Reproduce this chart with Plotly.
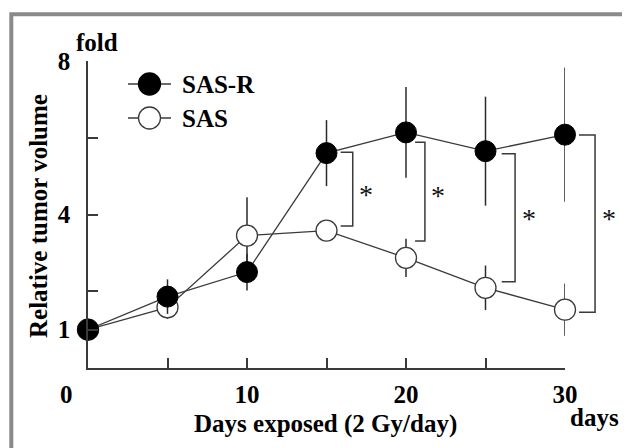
import plotly.graph_objects as go

# ---- data ----
days = [0, 5, 10, 15, 20, 25, 30]
sas_r = [1.0, 1.86, 2.50, 5.60, 6.14, 5.65, 6.08]
sas_r_err = [0.0, 0.45, 0.48, 0.86, 1.18, 1.42, 1.75]
sas = [1.0, 1.58, 3.45, 3.58, 2.87, 2.09, 1.52]
sas_err = [0.0, 0.30, 1.00, 0.0, 0.50, 0.58, 0.68]

# significance brackets (day, upper value, lower value)
br_days = [15, 20, 25, 30]
br_top = [5.62, 5.88, 5.58, 6.07]
br_bot = [3.70, 3.31, 2.25, 1.45]
br_label = ["*", "*", "*", "*"]
star_y = [4.68, 4.66, 4.05, 4.05]

y_tickvals = [1, 2, 4, 6, 8]
y_ticktext = ["1", "", "4", "", "8"]
x_tickvals = [5, 10, 15, 20, 25, 30]
x_ticktext = ["", "10", "", "20", "", "30"]

X_RANGE = [0, 30]
Y_RANGE = [0, 8]

# ---- layout geometry (pixels, in page coordinates) ----
OFF = 8  # page body margin
WIDTH, HEIGHT = 630 - OFF, 448 - OFF
L, R, T, B = 88, 565, 61, 368
PW, PH = R - L, B - T


def px(x):
    return (x - L) / PW


def py(y):
    return (B - y) / PH


def dx(d):  # data x -> paper
    return (d - X_RANGE[0]) / (X_RANGE[1] - X_RANGE[0])


def dy(v):  # data y -> paper
    return (v - Y_RANGE[0]) / (Y_RANGE[1] - Y_RANGE[0])


FONT = "Liberation Serif"
LINE_C = "#3a3a3a"
FS = 25

fig = go.Figure()

fig.add_trace(go.Scatter(
    x=days, y=sas, mode="lines+markers", name="SAS", cliponaxis=False,
    line=dict(color=LINE_C, width=1.3),
    marker=dict(size=21, color="white", line=dict(color=LINE_C, width=1.3)),
    error_y=dict(type="data", array=sas_err, visible=True, width=0,
                 thickness=1.5, color="#2a2a2a"),
    showlegend=False,
))
fig.add_trace(go.Scatter(
    x=days, y=sas_r, mode="lines+markers", name="SAS-R", cliponaxis=False,
    line=dict(color=LINE_C, width=1.3),
    marker=dict(size=21, color="black", line=dict(color="black", width=1)),
    error_y=dict(type="data", array=sas_r_err, visible=True, width=0,
                 thickness=1.5, color="#2a2a2a"),
    showlegend=False,
))

shapes = []
annotations = []

# brackets
br_dx0 = [0.89, 0.57, 1.02, 0.88]
br_dx1 = [1.65, 1.19, 1.86, 1.89]
for d, t, b, a0, a1, lab, sy in zip(br_days, br_top, br_bot, br_dx0, br_dx1, br_label, star_y):
    x0, x1 = dx(d + a0), dx(d + a1)
    y0, y1 = dy(t), dy(b)
    shapes.append(dict(
        type="path", xref="paper", yref="paper",
        path=f"M {x0},{y0} L {x1},{y0} L {x1},{y1} L {x0},{y1}",
        line=dict(color=LINE_C, width=1.5),
    ))
    annotations.append(dict(
        x=dx(d + a1 + 0.85), y=dy(sy), xref="paper", yref="paper",
        text=lab, showarrow=False, xanchor="center", yanchor="middle",
        yshift=-6,
        font=dict(family=FONT, size=28, color="#111111"),
    ))

# legend (drawn manually, to keep big markers)
leg_items = [("SAS-R", "black", "black", 84), ("SAS", "white", LINE_C, 118)]
for name, fill, edge, yy in leg_items:
    shapes.append(dict(type="line", xref="paper", yref="paper",
                       x0=px(128), x1=px(171), y0=py(yy), y1=py(yy),
                       line=dict(color=LINE_C, width=1.3)))
    shapes.append(dict(type="circle", xref="paper", yref="paper",
                       xsizemode="pixel", ysizemode="pixel",
                       xanchor=px(149.5), yanchor=py(yy),
                       x0=-11, x1=11, y0=-11, y1=11,
                       fillcolor=fill, line=dict(color=edge, width=1.3)))
    annotations.append(dict(x=px(180), y=py(yy), xref="paper", yref="paper",
                            text=f"<b>{name}</b>", showarrow=False,
                            xanchor="left", yanchor="middle",
                            font=dict(family=FONT, size=FS, color="black")))

# outer gray frame
shapes.append(dict(type="rect", xref="paper", yref="paper",
                   x0=px(11.3), x1=px(700), y0=py(14.3), y1=py(520),
                   line=dict(color="#8a8a8a", width=4), layer="below"))

# texts
annotations += [
    dict(x=px(97), y=py(43), text="<b>fold</b>"),
    dict(x=px(66), y=py(394), text="<b>0</b>"),
    dict(x=px(594), y=py(417), text="<b>days</b>"),
    dict(x=px(325), y=py(424), text="<b>Days exposed (2 Gy/day)</b>"),
    dict(x=px(38), y=py(216), text="<b>Relative tumor volume</b>", textangle=-90),
]
for a in annotations[-5:]:
    a.update(xref="paper", yref="paper", showarrow=False,
             xanchor="center", yanchor="middle",
             font=dict(family=FONT, size=FS, color="black"))

axis_common = dict(
    showline=True, linecolor=LINE_C, linewidth=1.5, mirror=False,
    ticks="inside", ticklen=10, tickwidth=1.5, tickcolor=LINE_C,
    showgrid=False, zeroline=False,
    tickfont=dict(family=FONT, size=FS, color="black"),
)

fig.update_layout(
    width=WIDTH, height=HEIGHT,
    margin=dict(l=L - OFF, r=WIDTH - (R - OFF), t=T - OFF, b=HEIGHT - (B - OFF)),
    paper_bgcolor="white", plot_bgcolor="white",
    xaxis=dict(range=X_RANGE, tickvals=x_tickvals,
               ticktext=[f"<b>{t}</b>" if t else "" for t in x_ticktext],
               ticklabelstandoff=3, **axis_common),
    yaxis=dict(range=Y_RANGE, tickvals=y_tickvals,
               ticktext=[f"<b>{t}</b>" if t else "" for t in y_ticktext],
               ticklabelstandoff=11, **axis_common),
    shapes=shapes, annotations=annotations, showlegend=False,
)

fig.write_html("out.html")
